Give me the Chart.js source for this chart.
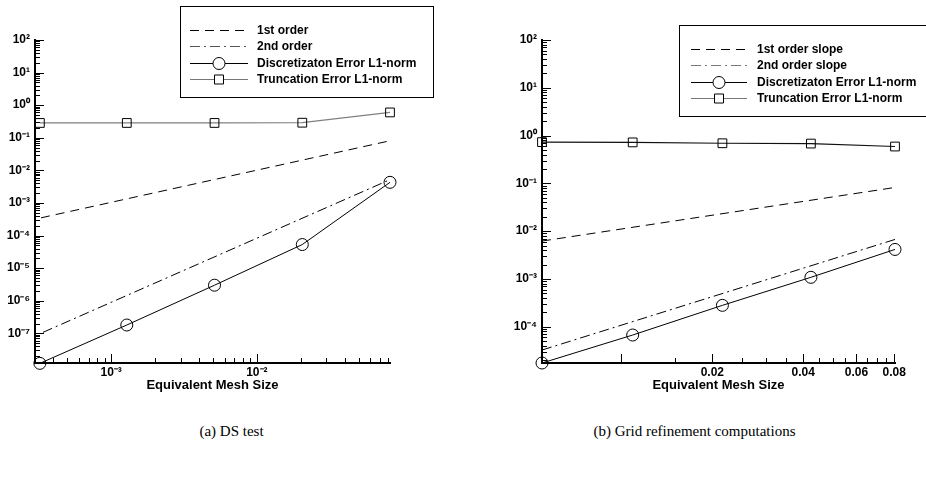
<!DOCTYPE html>
<html>
<head>
<meta charset="utf-8">
<script src="https://cdn.jsdelivr.net/npm/chart.js@4.4.0/dist/chart.umd.min.js"></script>
<style>
  body { margin: 0; background: #fff; width: 926px; height: 479px; position: relative; overflow: hidden; }
  canvas { position: absolute; top: 0; }
  #dsCanvas { left: 0; }
  #gridCanvas { left: 463px; }
  .caption { position: absolute; top: 423px; width: 463px; text-align: center;
             font-family: "Liberation Serif", "Times New Roman", serif; font-size: 15px; color: #000; }
</style>
</head>
<body>
<canvas id="dsCanvas" width="463" height="400"></canvas>
<canvas id="gridCanvas" width="463" height="400"></canvas>
<div class="caption" style="left:0">(a) DS test</div>
<div class="caption" style="left:463px">(b) Grid refinement computations</div>

<script>
// ---- (a) DS test data ----
const dsMesh = [3.24e-4, 1.28e-3, 5.12e-3, 0.0205, 0.082];
const dsDiscErr = [1.2e-8, 1.8e-7, 3.0e-6, 5.3e-5, 4.3e-3];
const dsTruncErr = [0.285, 0.285, 0.285, 0.29, 0.6];
const dsFirstX = [3.3e-4, 0.082];
const dsFirstY = [3.5e-4, 0.081];
const dsSecondX = [3.4e-4, 0.082];
const dsSecondY = [1.07e-7, 5.2e-3];
const dsYExps = [2, 1, 0, -1, -2, -3, -4, -5, -6, -7];
const dsYLabels = ['10²', '10¹', '10⁰', '10⁻¹', '10⁻²', '10⁻³', '10⁻⁴', '10⁻⁵', '10⁻⁶', '10⁻⁷'];
const dsXMajor = [1e-3, 1e-2];
const dsXLabels = ['10⁻³', '10⁻²'];

// ---- (b) grid refinement data ----
const gridMesh = [0.00546, 0.0109, 0.0216, 0.0424, 0.0805];
const gridDiscErr = [1.74e-5, 6.7e-5, 2.8e-4, 1.08e-3, 4.14e-3];
const gridTruncErr = [0.73, 0.72, 0.69, 0.68, 0.59];
const gridFirstX = [0.00546, 0.0805];
const gridFirstY = [6.2e-3, 0.082];
const gridSecondX = [0.00546, 0.0805];
const gridSecondY = [3.25e-5, 6.7e-3];
const gridYExps = [2, 1, 0, -1, -2, -3, -4];
const gridYLabels = ['10²', '10¹', '10⁰', '10⁻¹', '10⁻²', '10⁻³', '10⁻⁴'];
const gridXMajor = [0.01, 0.02, 0.04, 0.06, 0.08];
const gridXLabels = ['', '0.02', '0.04', '0.06', '0.08'];
const gridXMinor = [0.015, 0.025, 0.03, 0.035, 0.045, 0.05, 0.055, 0.065, 0.07, 0.075];

const tickFont = { family: 'Liberation Sans, Arial, sans-serif', size: 12, weight: 'bold' };

// log decade ticks: labelled majors plus 2..9 minors, kept inside [min,max]
function logTicks(exps, labels, min, max) {
  const out = [];
  exps.forEach((e, i) => {
    const base = Math.pow(10, e);
    out.push({ value: base, major: true, txt: labels[i] });
    for (let m = 2; m <= 9; m++) {
      const v = base * m;
      if (v >= min && v <= max) out.push({ value: v, major: false, txt: '' });
    }
  });
  // minors of the decade below the lowest label
  const low = Math.pow(10, exps[exps.length - 1] - 1);
  for (let m = 2; m <= 9; m++) {
    if (low * m >= min) out.push({ value: low * m, major: false, txt: '' });
  }
  return out;
}

function minorDecades(from, to, min, max) {
  const out = [];
  for (let e = from; e <= to; e++) {
    for (let m = 2; m <= 9; m++) {
      const v = m * Math.pow(10, e);
      if (v >= min && v <= max) out.push({ value: v, major: false, txt: '' });
    }
  }
  return out;
}

const inwardTicks = {
  id: 'inwardTicks',
  beforeDatasetsDraw(chart) {
    const ctx = chart.ctx;
    const area = chart.chartArea;
    ctx.save();
    ctx.strokeStyle = '#000';
    ctx.lineWidth = 1;
    ctx.beginPath();
    chart.scales.y.ticks.forEach(t => {
      const py = Math.round(chart.scales.y.getPixelForValue(t.value)) + 0.5;
      const len = t.major ? 9 : 5;
      ctx.moveTo(area.left, py);
      ctx.lineTo(area.left + len, py);
    });
    chart.scales.x.ticks.forEach(t => {
      const px = Math.round(chart.scales.x.getPixelForValue(t.value)) + 0.5;
      const len = t.major ? 9 : 5;
      ctx.moveTo(px, area.bottom);
      ctx.lineTo(px, area.bottom - len);
    });
    ctx.stroke();
    ctx.restore();
  }
};

const boxLegend = {
  id: 'boxLegend',
  afterDraw(chart, args, opts) {
    const ctx = chart.ctx;
    ctx.save();
    ctx.strokeStyle = '#000';
    ctx.lineWidth = 1;
    ctx.strokeRect(opts.box[0] + 0.5, opts.box[1] + 0.5, opts.box[2], opts.box[3]);
    ctx.font = 'bold 12px "Liberation Sans", Arial, sans-serif';
    ctx.textBaseline = 'middle';
    ctx.fillStyle = '#000';
    opts.order.forEach((di, row) => {
      const ds = chart.data.datasets[di];
      const y = opts.rows[row] + 0.5;
      ctx.strokeStyle = opts.sampleColors[row];
      ctx.setLineDash(ds.borderDash || []);
      ctx.beginPath();
      ctx.moveTo(opts.sampleX[0], y);
      ctx.lineTo(opts.sampleX[1], y);
      ctx.stroke();
      ctx.setLineDash([]);
      if (ds.pointRadius > 0) {
        const cx = (opts.sampleX[0] + opts.sampleX[1]) / 2;
        ctx.strokeStyle = '#000';
        ctx.fillStyle = '#fff';
        ctx.beginPath();
        if (ds.pointStyle === 'rect') {
          ctx.rect(cx - 4.5, y - 4.5, 9, 9);
        } else {
          ctx.arc(cx, y, 6, 0, Math.PI * 2);
        }
        ctx.fill();
        ctx.stroke();
      }
      ctx.fillStyle = '#000';
      ctx.fillText(ds.label, opts.textX, y);
    });
    ctx.restore();
  }
};

function pairs(xs, ys) {
  return xs.map((x, i) => ({ x: x, y: ys[i] }));
}

function makeChart(id, cfg) {
  return new Chart(document.getElementById(id), {
    type: 'line',
    data: {
      datasets: [
        { label: cfg.names[0], data: pairs(cfg.firstX, cfg.firstY), borderColor: '#000', borderWidth: 1,
          borderDash: [9, 6], pointRadius: 0 },
        { label: cfg.names[1], data: pairs(cfg.secondX, cfg.secondY), borderColor: '#000', borderWidth: 1,
          borderDash: [10, 4, 2, 4], pointRadius: 0 },
        { label: cfg.names[2], data: pairs(cfg.mesh, cfg.disc), borderColor: '#000', borderWidth: 1,
          pointStyle: 'circle', pointRadius: 6, pointBorderColor: '#000', pointBorderWidth: 1,
          pointBackgroundColor: 'rgba(255,255,255,0)' },
        { label: cfg.names[3], data: pairs(cfg.mesh, cfg.trunc), borderColor: cfg.truncColor, borderWidth: 1.2,
          pointStyle: 'rect', pointRadius: 6.2, pointBorderColor: '#000', pointBorderWidth: 1,
          pointBackgroundColor: 'rgba(255,255,255,0)' }
      ]
    },
    options: {
      responsive: false,
      animation: false,
      devicePixelRatio: 1,
      clip: false,
      layout: { padding: { left: 0, top: 40, right: cfg.padRight, bottom: 0 } },
      elements: { line: { tension: 0 } },
      scales: {
        x: {
          type: 'logarithmic',
          min: cfg.xMin, max: cfg.xMax,
          grid: { display: false, drawTicks: false },
          border: { display: true, color: '#000', width: 2 },
          afterBuildTicks: s => { s.ticks = cfg.xTicks.map(t => Object.assign({}, t)); },
          afterFit: s => { s.height = 37; },
          ticks: { autoSkip: false, maxRotation: 0, padding: 2, color: '#000', font: tickFont,
                   callback: (v, i, ticks) => ticks[i].txt || '' },
          title: { display: true, text: 'Equivalent Mesh Size', color: '#000',
                   font: { family: 'Liberation Sans, Arial, sans-serif', size: 13, weight: 'bold' },
                   padding: { top: 0, bottom: 7 } }
        },
        y: {
          type: 'logarithmic',
          min: cfg.yMin, max: cfg.yMax,
          grid: { display: false, drawTicks: false },
          border: { display: true, color: '#000', width: 2 },
          afterBuildTicks: s => { s.ticks = cfg.yTicks.map(t => Object.assign({}, t)); },
          afterFit: s => { s.width = cfg.yWidth; },
          ticks: { autoSkip: false, padding: 5, color: '#000', font: tickFont,
                   callback: (v, i, ticks) => ticks[i].txt || '' }
        }
      },
      plugins: {
        legend: { display: false },
        tooltip: { enabled: false },
        boxLegend: cfg.legend
      }
    },
    plugins: [inwardTicks, boxLegend]
  });
}

makeChart('dsCanvas', {
  names: ['1st order', '2nd order', 'Discretizaton Error L1-norm', 'Truncation Error L1-norm'],
  firstX: dsFirstX, firstY: dsFirstY, secondX: dsSecondX, secondY: dsSecondY,
  mesh: dsMesh, disc: dsDiscErr, trunc: dsTruncErr,
  truncColor: '#808080',
  xMin: 3.24e-4, xMax: 0.082, yMin: 1.23e-8, yMax: 100,
  padRight: 73, yWidth: 35,
  xTicks: dsXMajor.map((v, i) => ({ value: v, major: true, txt: dsXLabels[i] }))
          .concat(minorDecades(-4, -2, 3.24e-4, 0.082)),
  yTicks: logTicks(dsYExps, dsYLabels, 1.23e-8, 100),
  legend: { box: [180, 6, 253, 91], rows: [30, 46, 63, 79], sampleX: [190, 248], textX: 257,
            order: [0, 1, 2, 3], sampleColors: ['#000', '#555', '#000', '#777'] }
});

makeChart('gridCanvas', {
  names: ['1st order slope', '2nd order slope', 'Discretizaton Error L1-norm', 'Truncation Error L1-norm'],
  firstX: gridFirstX, firstY: gridFirstY, secondX: gridSecondX, secondY: gridSecondY,
  mesh: gridMesh, disc: gridDiscErr, trunc: gridTruncErr,
  truncColor: '#111',
  xMin: 0.00546, xMax: 0.0805, yMin: 1.74e-5, yMax: 100,
  padRight: 31, yWidth: 79,
  xTicks: gridXMajor.map((v, i) => ({ value: v, major: true, txt: gridXLabels[i] }))
          .concat(gridXMinor.map(v => ({ value: v, major: false, txt: '' }))),
  yTicks: logTicks(gridYExps, gridYLabels, 1.74e-5, 100),
  legend: { box: [216, 25, 260, 91], rows: [49, 65, 82, 98], sampleX: [228, 284], textX: 294,
            order: [0, 1, 2, 3], sampleColors: ['#000', '#777', '#000', '#777'] }
});
</script>
</body>
</html>
